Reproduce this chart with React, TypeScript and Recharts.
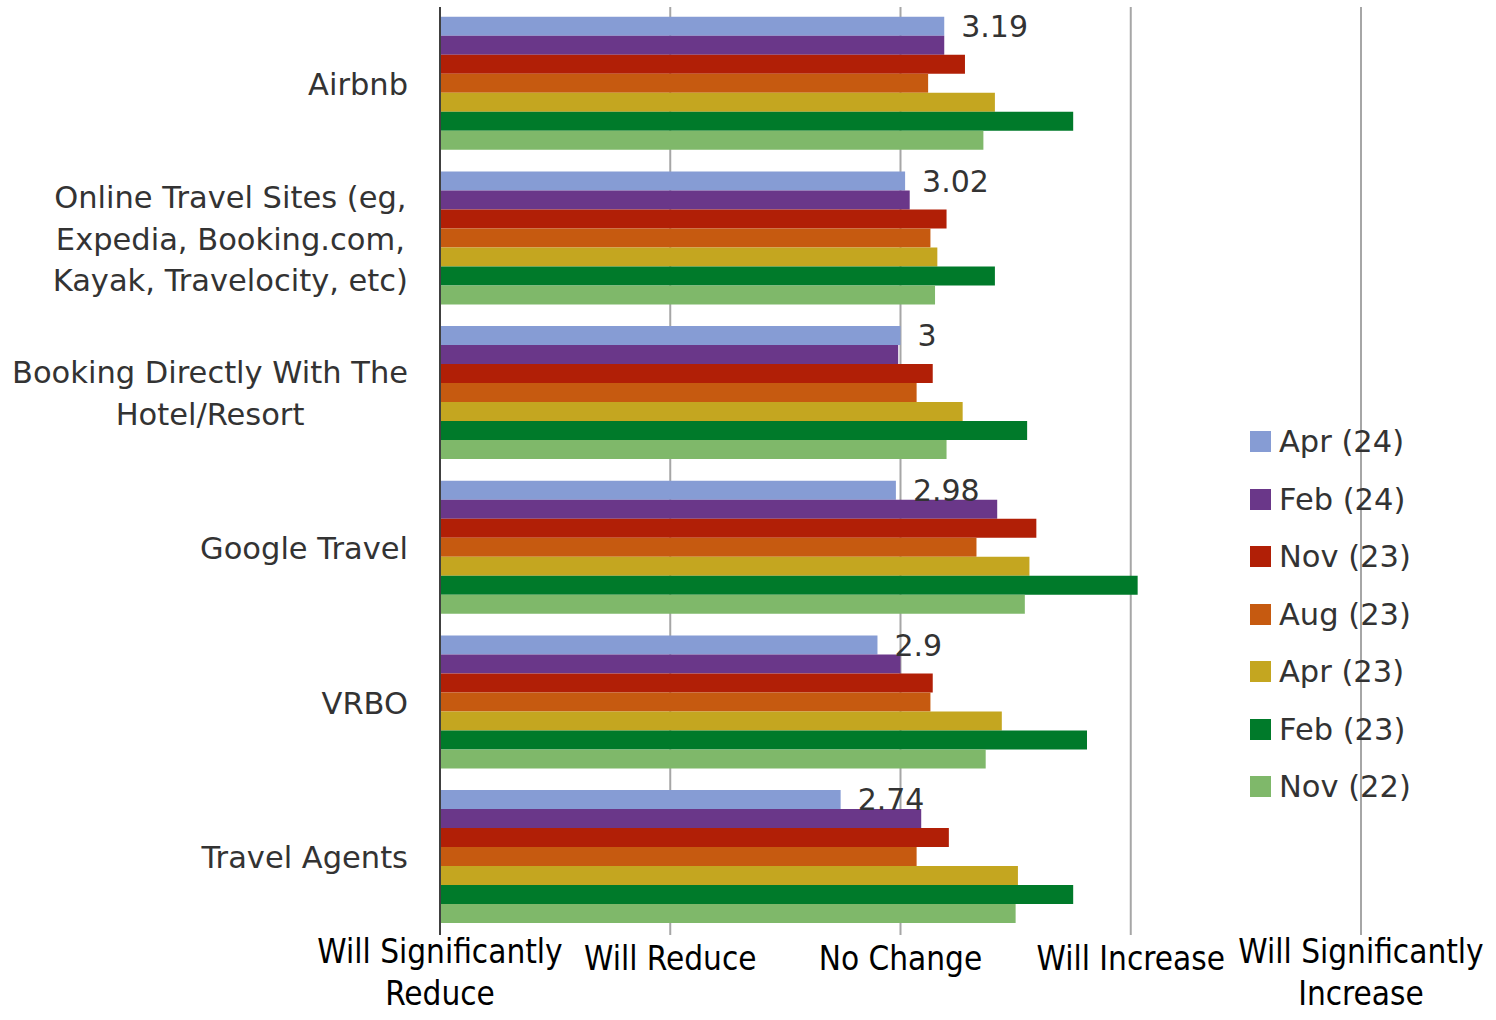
import {
  BarChart,
  Bar,
  XAxis,
  YAxis,
  CartesianGrid,
  Legend,
  LabelList,
} from "recharts";

const categories = [
  "Airbnb",
  "Online Travel Sites (eg,\nExpedia, Booking.com,\nKayak, Travelocity, etc)",
  "Booking Directly With The\nHotel/Resort",
  "Google Travel",
  "VRBO",
  "Travel Agents",
];

const seriesNames = ["Apr (24)", "Feb (24)", "Nov (23)", "Aug (23)", "Apr (23)", "Feb (23)", "Nov (22)"];

const apr24 = [3.19, 3.02, 3.0, 2.98, 2.9, 2.74];
const feb24 = [3.19, 3.04, 2.99, 3.42, 3.0, 3.09];
const nov23 = [3.28, 3.2, 3.14, 3.59, 3.14, 3.21];
const aug23 = [3.12, 3.13, 3.07, 3.33, 3.13, 3.07];
const apr23 = [3.41, 3.16, 3.27, 3.56, 3.44, 3.51];
const feb23 = [3.75, 3.41, 3.55, 4.03, 3.81, 3.75];
const nov22 = [3.36, 3.15, 3.2, 3.54, 3.37, 3.5];

const scaleTicks = [1, 2, 3, 4, 5];
const scaleLabels = [
  "Will Significantly\nReduce",
  "Will Reduce",
  "No Change",
  "Will Increase",
  "Will Significantly\nIncrease",
];

const COLORS = ["#869cd4", "#6a3789", "#b11f06", "#c65a10", "#c4a620", "#007a2a", "#7fb86a"];
const KEYS = ["apr24", "feb24", "nov23", "aug23", "apr23", "feb23", "nov22"];

const FONT = "'DejaVu Sans', Verdana, sans-serif";
const TEXT = "#333333";

const data = categories.map((name, i) => ({
  name,
  apr24: apr24[i],
  feb24: feb24[i],
  nov23: nov23[i],
  aug23: aug23[i],
  apr23: apr23[i],
  feb23: feb23[i],
  nov22: nov22[i],
}));

let ctx: CanvasRenderingContext2D | null = null;
function textWidth(s: string, font: string) {
  if (!ctx) ctx = document.createElement("canvas").getContext("2d");
  if (!ctx) return s.length * 15;
  ctx.font = font;
  return ctx.measureText(s).width;
}

// multi-line labels are centred as a block, block right-aligned to the axis
const CategoryTick = ({ x, y, payload }: any) => {
  const lines = String(payload.value).split("\n");
  const maxW = Math.max(...lines.map((l) => textWidth(l, "30.5px 'DejaVu Sans'")));
  const right = x - 24;
  const cx = right - maxW / 2;
  const lh = 41.5;
  const top = y - ((lines.length - 1) * lh) / 2;
  return (
    <text textAnchor="middle" fill={TEXT} style={{ fontSize: 30.5, fontFamily: FONT }}>
      {lines.map((l, i) => (
        <tspan key={i} x={cx} y={top + i * lh} dominantBaseline="central">
          {l}
        </tspan>
      ))}
    </text>
  );
};

const ScaleTick = ({ x, y, payload }: any) => {
  const idx = scaleTicks.indexOf(payload.value);
  const lines = (scaleLabels[idx] || "").split("\n");
  const first = lines.length > 1 ? 14 : 21;
  return (
    <text
      textAnchor="middle"
      fill="#000"
      style={{ fontSize: 33, fontFamily: "'DejaVu Sans Condensed', 'DejaVu Sans', sans-serif", fontStretch: "condensed" }}
    >
      {lines.map((l, i) => (
        <tspan key={i} x={x} y={y + first + i * 42} dominantBaseline="central">
          {l}
        </tspan>
      ))}
    </text>
  );
};

const LegendBox = () => (
  <div style={{ fontFamily: FONT, fontSize: 30.5, color: TEXT }}>
    {seriesNames.map((n, i) => (
      <div key={n} style={{ display: "flex", alignItems: "center", height: 57.5 }}>
        <span style={{ width: 21, height: 21, background: COLORS[i], marginRight: 8, display: "inline-block" }} />
        <span>{n}</span>
      </div>
    ))}
  </div>
);

export default function App() {
  return (
    <div style={{ position: "absolute", left: 0, top: 0, width: 1496, height: 1020, background: "#fff" }}>
      <BarChart
        width={1496}
        height={1020}
        data={data}
        layout="vertical"
        margin={{ top: 7, right: 135, bottom: 0, left: 0 }}
        barCategoryGap="6.3%"
        barGap={0}
      >
        <CartesianGrid horizontal={false} vertical stroke="#a6a6a6" strokeWidth={2} />
        <XAxis
          type="number"
          domain={[1, 5]}
          ticks={scaleTicks}
          height={85}
          axisLine={false}
          tickLine={false}
          tickSize={0}
          tick={<ScaleTick />}
          interval={0}
        />
        <YAxis
          type="category"
          dataKey="name"
          width={440}
          axisLine={{ stroke: "#404040", strokeWidth: 2 }}
          tickLine={false}
          tick={<CategoryTick />}
          interval={0}
        />
        <Legend
          layout="vertical"
          align="center"
          verticalAlign="middle"
          content={<LegendBox />}
          wrapperStyle={{ left: 1250, top: 413, width: 240 }}
        />
        {KEYS.map((k, i) => (
          <Bar key={k} dataKey={k} name={seriesNames[i]} fill={COLORS[i]} isAnimationActive={false}>
            {i === 0 && (
              <LabelList
                dataKey={k}
                position="right"
                offset={17}
                fill={TEXT}
                style={{ fontSize: 30, fontFamily: FONT }}
              />
            )}
          </Bar>
        ))}
      </BarChart>
    </div>
  );
}
